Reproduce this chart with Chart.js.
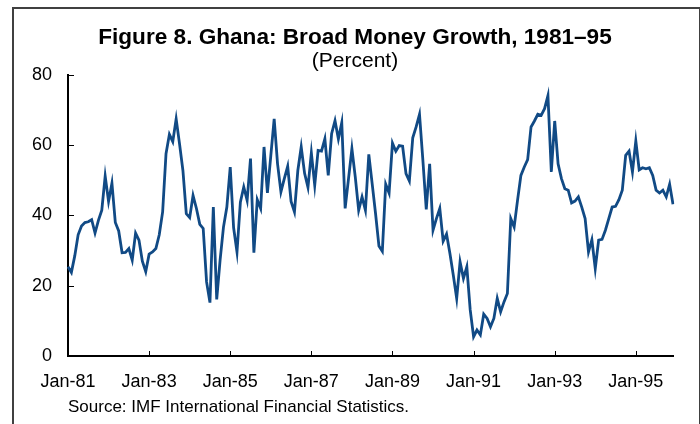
<!DOCTYPE html>
<html>
<head>
<meta charset="UTF-8">
<title>Ghana broad money growth</title>
<script src="https://cdn.jsdelivr.net/npm/chart.js"></script>
<style>
  html, body {
    margin: 0;
    padding: 0;
    background: #fff;
    overflow: hidden;
  }
  .wrap {
    position: relative;
    width: 700px;
    height: 424px;
  }
  .frame {
    position: absolute;
    left: 12px;
    top: 7px;
    width: 685px;
    height: 440px;
    border: 2px solid #404040;
  }
  .source {
    position: absolute;
    left: 68px;
    top: 397px;
    font: 17px "Liberation Sans", Arial, sans-serif;
    color: #000;
    white-space: nowrap;
  }
  canvas {
    position: absolute;
    left: 0;
    top: 0;
  }
</style>
</head>

<body>
<div class="wrap">
  <div class="frame"></div>
  <canvas id="moneyChart" width="700" height="424"></canvas>
  <div class="source">Source: IMF International Financial Statistics.</div>
</div>

<script>
    // categories: one per month, Jan-81 .. Dec-95
    const years = ['81', '82', '83', '84', '85', '86', '87', '88', '89', '90', '91', '92', '93', '94', '95'];
    const monthNames = ['Jan', 'Feb', 'Mar', 'Apr', 'May', 'Jun', 'Jul', 'Aug', 'Sep', 'Oct', 'Nov', 'Dec'];

    // broad money growth, percent
    const growth = [
        25.4, 23.8, 28.5, 34.5, 37.0, 38.0, 38.2, 38.8, 35.0, 38.6, 41.5, 51.2,  // 1981
        44.0, 49.2, 38.0, 35.6, 29.4, 29.5, 30.6, 27.3, 35.0, 33.0, 27.0, 24.0,  // 1982
        29.0, 29.6, 30.6, 34.5, 41.0, 57.6, 63.1, 61.0, 67.5, 60.4, 52.8, 40.5,  // 1983
        39.4, 45.7, 42.0, 37.5, 36.3, 21.1, 15.2, 42.4, 16.1, 27.3, 36.7, 42.4,  // 1984
        53.8, 36.5, 29.6, 43.8, 48.1, 44.3, 56.2, 29.4, 44.5, 42.0, 59.5, 46.4,  // 1985
        57.0, 67.5, 54.7, 46.7, 50.5, 54.0, 44.0, 41.0, 52.8, 59.5, 52.0, 48.0,  // 1986
        57.8, 48.6, 58.5, 58.3, 61.8, 51.4, 63.3, 67.0, 61.8, 66.4, 42.0, 50.5,  // 1987
        59.0, 50.9, 41.5, 45.3, 41.5, 57.4, 49.0, 40.5, 31.3, 29.8, 48.9, 46.4,  // 1988
        60.6, 58.3, 59.9, 59.7, 51.9, 49.8, 62.1, 65.2, 68.8, 55.7, 41.7, 54.7,  // 1989
        35.8, 39.1, 42.0, 32.7, 34.7, 29.2, 23.0, 16.4, 26.8, 22.1, 25.4, 13.1,  // 1990
        5.5, 7.4, 6.0, 11.9, 10.7, 8.3, 10.7, 16.4, 12.6, 15.4, 17.8, 39.1,      // 1991
        36.7, 44.3, 51.4, 53.8, 55.9, 65.2, 66.9, 68.8, 68.5, 70.4, 74.1, 52.4,  // 1992
        66.9, 54.7, 50.5, 47.6, 47.2, 43.6, 44.1, 45.3, 42.4, 39.1, 29.6, 33.1,  // 1993
        24.9, 33.0, 33.2, 35.8, 39.1, 42.4, 42.6, 44.5, 47.2, 57.1, 58.3, 52.4,  // 1994
        61.2, 53.0, 53.6, 53.3, 53.6, 51.4, 47.2, 46.4, 47.2, 45.3, 48.9, 43.2   // 1995
    ];

    const yTicks = [0, 20, 40, 60, 80];
    const labelEvery = 24; // a label every two years

    const labels = [];
    years.forEach(function (yy) {
        monthNames.forEach(function (m) {
            labels.push(m + '-' + yy);
        });
    });

    const fontFamily = '"Liberation Sans", Arial, sans-serif';

    // short tick marks pointing into the plot, as in the original
    const innerTicks = {
        id: 'innerTicks',
        afterDraw(chart) {
            const ctx = chart.ctx;
            const x = chart.scales.x;
            const y = chart.scales.y;
            ctx.save();
            ctx.strokeStyle = '#000';
            ctx.lineWidth = 1;
            ctx.beginPath();
            yTicks.forEach(function (v) {
                const py = Math.round(y.getPixelForValue(v)) + 0.5;
                ctx.moveTo(y.right, py);
                ctx.lineTo(y.right + 6, py);
            });
            labels.forEach(function (lab, i) {
                if (i % labelEvery !== 0 || i === 0) return;
                const px = Math.round(x.getPixelForValue(i)) + 0.5;
                ctx.moveTo(px, x.top);
                ctx.lineTo(px, x.top - 5);
            });
            ctx.stroke();
            ctx.restore();
        }
    };

    const config = {
        type: 'line',
        data: {
            labels: labels,
            datasets: [{
                label: 'Broad money growth',
                data: growth,
                borderColor: '#114a85',
                borderWidth: 2.8,
                pointRadius: 0,
                tension: 0,
                fill: false
            }]
        },
        options: {
            responsive: false,
            animation: false,
            devicePixelRatio: 1,
            layout: {
                // left/right split so the titles sit where the original has them
                padding: { left: 10, right: 0, top: 0, bottom: 0 }
            },
            plugins: {
                legend: { display: false },
                tooltip: { enabled: false },
                title: {
                    display: true,
                    text: 'Figure 8. Ghana: Broad Money Growth, 1981–95',
                    color: '#000',
                    font: { family: fontFamily, size: 22.6, weight: 'bold', lineHeight: 1.1 },
                    padding: { top: 25, bottom: 0 }
                },
                subtitle: {
                    display: true,
                    text: '(Percent)',
                    color: '#000',
                    font: { family: fontFamily, size: 21, lineHeight: 1.1 },
                    padding: { top: 0, bottom: 2 }
                }
            },
            scales: {
                x: {
                    type: 'category',
                    offset: false,
                    grid: { display: true, drawOnChartArea: false, drawTicks: false },
                    border: { display: true, color: '#000', width: 2 },
                    ticks: {
                        autoSkip: false,
                        maxRotation: 0,
                        minRotation: 0,
                        padding: 15,
                        color: '#000',
                        font: { family: fontFamily, size: 18 },
                        callback: function (value, index) {
                            return index % labelEvery === 0 ? labels[index] : '';
                        }
                    },
                    afterFit: function (scale) {
                        scale.height = 68;
                    }
                },
                y: {
                    min: 0,
                    max: 80,
                    grid: { display: true, drawOnChartArea: false, drawTicks: false },
                    border: { display: true, color: '#000', width: 2 },
                    ticks: {
                        stepSize: 20,
                        padding: 16,
                        color: '#000',
                        font: { family: fontFamily, size: 18 }
                    },
                    afterFit: function (scale) {
                        scale.width = 58;
                    }
                },
                // empty right-hand strip, keeps the plot ending where the original does
                yRight: {
                    position: 'right',
                    min: 0,
                    max: 80,
                    grid: { display: false },
                    border: { display: false },
                    ticks: { display: false },
                    afterFit: function (scale) {
                        scale.width = 27;
                    }
                }
            }
        },
        plugins: [innerTicks]
    };

    const ctx = document.getElementById('moneyChart').getContext('2d');
    new Chart(ctx, config);
</script>
</body>
</html>
